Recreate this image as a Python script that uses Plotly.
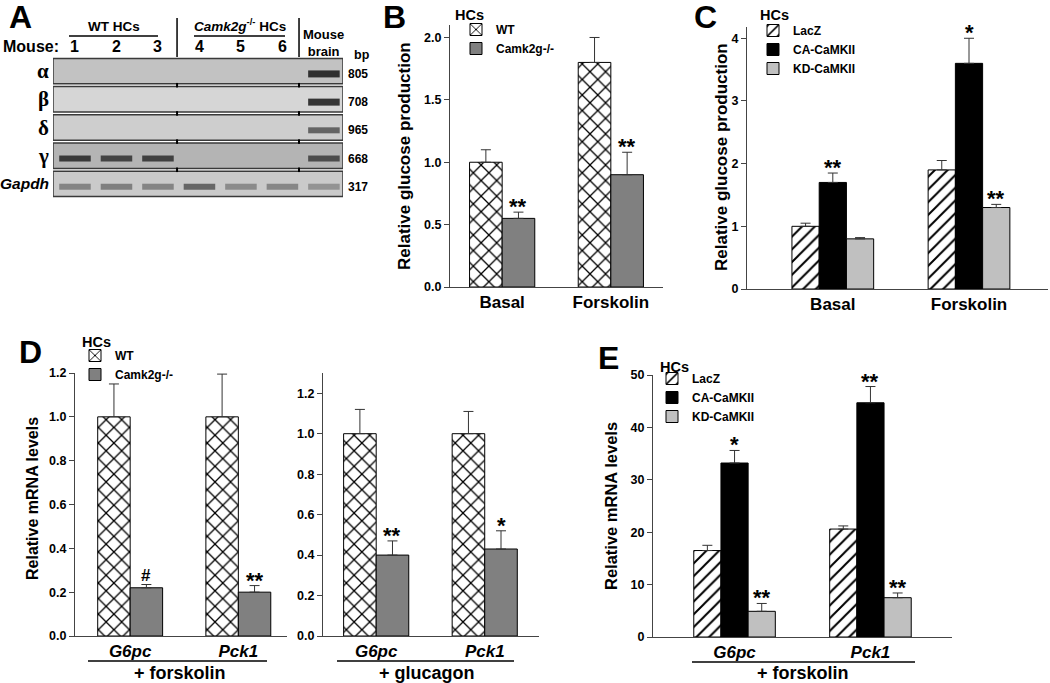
import plotly.graph_objects as go

W, H = 1050, 683

# ------------------------------------------------------------------ data
# Panel A (RT-PCR gel)
gel_rows = ["α", "β", "δ", "γ", "Gapdh"]
gel_bp = ["805", "708", "965", "668", "317"]
gel_lane_labels = ["1", "2", "3", "4", "5", "6"]
band_intensity = [
    [0, 0, 0, 0, 0, 0, 0.92],
    [0, 0, 0, 0, 0, 0, 0.90],
    [0, 0, 0, 0, 0, 0, 0.62],
    [0.85, 0.78, 0.80, 0, 0, 0, 0.72],
    [0.42, 0.45, 0.42, 0.60, 0.38, 0.40, 0.33],
]

# Panel B
b_categories = ["Basal", "Forskolin"]
b_wt = [1.0, 1.8]
b_wt_err = [0.10, 0.20]
b_ko = [0.55, 0.90]
b_ko_err = [0.05, 0.18]
b_ko_sig = ["**", "**"]

# Panel C
c_categories = ["Basal", "Forskolin"]
c_lacz = [1.0, 1.9]
c_lacz_err = [0.05, 0.15]
c_ca = [1.7, 3.6]
c_ca_err = [0.15, 0.40]
c_kd = [0.8, 1.3]
c_kd_err = [0.02, 0.05]
c_ca_sig = ["**", "*"]
c_kd_sig = ["", "**"]

# Panel D
d_genes = ["G6pc", "Pck1"]
d_fsk_wt = [1.0, 1.0]
d_fsk_wt_err = [0.15, 0.195]
d_fsk_ko = [0.22, 0.20]
d_fsk_ko_err = [0.015, 0.03]
d_fsk_ko_sig = ["#", "**"]
d_glu_wt = [1.0, 1.0]
d_glu_wt_err = [0.12, 0.11]
d_glu_ko = [0.40, 0.43]
d_glu_ko_err = [0.07, 0.09]
d_glu_ko_sig = ["**", "*"]

# Panel E
e_genes = ["G6pc", "Pck1"]
e_lacz = [16.5, 20.6]
e_lacz_err = [1.0, 0.6]
e_ca = [33.2, 44.7]
e_ca_err = [2.4, 3.1]
e_kd = [4.9, 7.5]
e_kd_err = [1.5, 0.9]
e_ca_sig = ["*", "**"]
e_kd_sig = ["**", "**"]

# ------------------------------------------------------------------ styles
FONT = "Liberation Sans, Arial, Helvetica, sans-serif"
SERIF = "Liberation Serif, Times New Roman, serif"
AX = "#444444"
ERR = "#333333"

STYLE = {
    "WT": dict(color="white", pattern=dict(shape="x", fgcolor="black", bgcolor="white", size=11, solidity=0.22)),
    "Camk2g-/-": dict(color="#808080"),
    "LacZ": dict(color="white", pattern=dict(shape="/", fgcolor="black", bgcolor="white", size=9, solidity=0.22)),
    "CA-CaMKII": dict(color="black"),
    "KD-CaMKII": dict(color="#c0c0c0"),
}
gel_bg = [194, 214, 206, 180, 202]


def xd(a, b):
    return [a / W, b / W]


def yd(top, bottom):
    return [1 - bottom / H, 1 - top / H]


fig = go.Figure()
annotations = []
shapes = []


def add_bar(x, y, err, name, xa, ya, legend, showlegend):
    st = STYLE[name]
    marker = dict(color=st["color"], line=dict(color="black", width=1))
    if "pattern" in st:
        marker["pattern"] = st["pattern"]
    fig.add_trace(go.Bar(
        x=x, y=y, name=name, xaxis=xa, yaxis=ya, marker=marker,
        error_y=dict(type="data", array=err, arrayminus=[0] * len(err), symmetric=False,
                     color=ERR, thickness=1, width=5),
        legend=legend, showlegend=showlegend, hoverinfo="skip"))


def add_sig(xa, ya, offset, vals, errs, labels):
    for i, (v, e, lab) in enumerate(zip(vals, errs, labels)):
        if not lab:
            continue
        is_hash = lab == "#"
        annotations.append(dict(
            x=i + offset, y=v + e, xref=xa, yref=ya, text=lab, showarrow=False,
            xanchor="center", yanchor="bottom", yshift=-2 if is_hash else -9,
            font=dict(size=17 if is_hash else 22, family=FONT, color="black")))


# ---------------- Panel B
add_bar(b_categories, b_wt, b_wt_err, "WT", "x", "y", "legend", True)
add_bar(b_categories, b_ko, b_ko_err, "Camk2g-/-", "x", "y", "legend", True)
add_sig("x", "y", 0.15, b_ko, b_ko_err, b_ko_sig)

# ---------------- Panel C
add_bar(c_categories, c_lacz, c_lacz_err, "LacZ", "x2", "y2", "legend2", True)
add_bar(c_categories, c_ca, c_ca_err, "CA-CaMKII", "x2", "y2", "legend2", True)
add_bar(c_categories, c_kd, c_kd_err, "KD-CaMKII", "x2", "y2", "legend2", True)
add_sig("x2", "y2", 0.0, c_ca, c_ca_err, c_ca_sig)
add_sig("x2", "y2", 0.2, c_kd, c_kd_err, c_kd_sig)

# ---------------- Panel D
add_bar(d_genes, d_fsk_wt, d_fsk_wt_err, "WT", "x3", "y3", "legend3", True)
add_bar(d_genes, d_fsk_ko, d_fsk_ko_err, "Camk2g-/-", "x3", "y3", "legend3", True)
add_sig("x3", "y3", 0.15, d_fsk_ko, d_fsk_ko_err, d_fsk_ko_sig)
add_bar(d_genes, d_glu_wt, d_glu_wt_err, "WT", "x4", "y4", "legend3", False)
add_bar(d_genes, d_glu_ko, d_glu_ko_err, "Camk2g-/-", "x4", "y4", "legend3", False)
add_sig("x4", "y4", 0.15, d_glu_ko, d_glu_ko_err, d_glu_ko_sig)

# ---------------- Panel E
add_bar(e_genes, e_lacz, e_lacz_err, "LacZ", "x5", "y5", "legend4", True)
add_bar(e_genes, e_ca, e_ca_err, "CA-CaMKII", "x5", "y5", "legend4", True)
add_bar(e_genes, e_kd, e_kd_err, "KD-CaMKII", "x5", "y5", "legend4", True)
add_sig("x5", "y5", 0.0, e_ca, e_ca_err, e_ca_sig)
add_sig("x5", "y5", 0.2, e_kd, e_kd_err, e_kd_sig)

# ---------------- Panel A gel
GX0, GX1 = 0.47, 7.46
n_rows = len(gel_rows)
fig.add_trace(go.Bar(
    y=list(range(n_rows)), x=[GX1 - GX0] * n_rows, base=[GX0] * n_rows,
    orientation="h", width=0.9, xaxis="x6", yaxis="y6",
    marker=dict(color=[f"rgb({g},{g},{g})" for g in gel_bg], line=dict(color="#3a3a3a", width=1.5)),
    showlegend=False, hoverinfo="skip"))
BAND_OFF = 0.1
for r, row in enumerate(band_intensity):
    bg = gel_bg[r]
    for l, v in enumerate(row):
        if v <= 0:
            continue
        g = int(round(bg - v * (bg - 35)))
        fig.add_trace(go.Scatter(
            x=[l + 1 - 0.38, l + 1 + 0.38], y=[r + BAND_OFF, r + BAND_OFF], mode="lines",
            line=dict(color=f"rgb({g},{g},{g})", width=7 if v > 0.85 else 6), xaxis="x6", yaxis="y6",
            showlegend=False, hoverinfo="skip"))


def ann_paper(x, y, text, size, angle=0, **kw):
    d = dict(x=x / W, y=1 - y / H, xref="paper", yref="paper", text=text, showarrow=False,
             textangle=angle, xanchor="center", yanchor="middle",
             font=dict(size=size, color="black"))
    d.update(kw)
    annotations.append(d)


for r, lab in enumerate(gel_rows):
    is_greek = lab != "Gapdh"
    annotations.append(dict(
        x=51 / W, xref="paper", y=r, yref="y6", xanchor="right", yanchor="middle", showarrow=False,
        text=lab if is_greek else f"<i>{lab}</i>",
        font=dict(family=SERIF if is_greek else FONT, size=21 if is_greek else 15.5, color="black")))
    annotations.append(dict(
        x=346 / W, xref="paper", y=r + BAND_OFF, yref="y6", xanchor="left", yanchor="middle",
        showarrow=False, text=gel_bp[r], font=dict(size=12, color="black")))
ann_paper(352, 55, "bp", 12.5, xanchor="left")
for l, lab in enumerate(gel_lane_labels):
    annotations.append(dict(x=l + 1, xref="x6", y=1 - 47 / H, yref="paper", showarrow=False,
                            xanchor="center", yanchor="middle",
                            text=lab, font=dict(size=16, color="black")))
ann_paper(61, 47, "Mouse:", 16, xanchor="right")
annotations.append(dict(x=7, xref="x6", y=1 - 43 / H, yref="paper", showarrow=False,
                        xanchor="center", yanchor="middle",
                        text="Mouse<br>brain", font=dict(size=13, color="black")))
ann_paper(114, 26, "WT HCs", 13.5)
ann_paper(240, 25, "<i>Camk2g</i><sup>-/-</sup> HCs", 13.5)
shapes.append(dict(type="line", xref="paper", yref="paper", x0=69 / W, x1=158 / W,
                   y0=1 - 36 / H, y1=1 - 36 / H, line=dict(color="black", width=1.5)))
shapes.append(dict(type="line", xref="paper", yref="paper", x0=194 / W, x1=285 / W,
                   y0=1 - 36 / H, y1=1 - 36 / H, line=dict(color="black", width=1.5)))
for dx in (3.46, 6.40):
    shapes.append(dict(type="line", xref="x6", yref="paper", x0=dx, x1=dx,
                       y0=1 - 57 / H, y1=1 - 18 / H, line=dict(color="black", width=1.5)))
    for r in range(n_rows - 1):
        shapes.append(dict(type="line", xref="x6", yref="y6", x0=dx, x1=dx,
                           y0=r + 0.42, y1=r + 0.58, line=dict(color="black", width=2)))

# ---------------- captions, titles, letters
for letter, x, y in [("A", 20, 17), ("B", 394, 17), ("C", 705, 17), ("D", 30, 352), ("E", 608, 358)]:
    ann_paper(x, y, letter, 32)

# legend headings
for x, y in [(453, 15), (758, 15), (80, 342), (658, 367)]:
    ann_paper(x, y, "HCs", 14.5, xanchor="left")

ann_paper(404, 156, "Relative glucose production", 17, -90)
ann_paper(721, 157, "Relative glucose production", 17, -90)
ann_paper(32, 499, "Relative mRNA levels", 16, -90)
ann_paper(611, 506, "Relative mRNA levels", 16.5, -90)

ann_paper(180, 673, "+ forskolin", 18)
ann_paper(427, 673, "+ glucagon", 18)
ann_paper(803, 673, "+ forskolin", 18)
for x0, x1, y in [(88, 267, 661), (337, 514, 661), (692, 915, 662)]:
    shapes.append(dict(type="line", xref="paper", yref="paper", x0=x0 / W, x1=x1 / W,
                       y0=1 - y / H, y1=1 - y / H, line=dict(color="black", width=1.5)))


# ---------------- axes
def yaxis(domain, rng, dtick, fmt, anchor):
    return dict(domain=domain, range=rng, dtick=dtick, tick0=0, tickformat=fmt, showline=True,
                linecolor=AX, linewidth=1, ticks="outside", ticklen=5, tickcolor=AX, anchor=anchor,
                tickfont=dict(size=12.5, color="black"), showgrid=False, zeroline=False,
                fixedrange=True, automargin=False)


def xaxis(domain, rng, anchor, italic=False):
    return dict(domain=domain, range=rng, anchor=anchor, showline=True, linecolor=AX, linewidth=1,
                ticks="", showgrid=False, zeroline=False, automargin=False, fixedrange=True,
                tickfont=dict(size=17, color="black", style="italic" if italic else "normal"))


legend_common = dict(xanchor="left", yanchor="top", bgcolor="rgba(0,0,0,0)", tracegroupgap=0,
                     font=dict(size=12, color="black"), itemclick=False, itemdoubleclick=False)

fig.update_layout(
    template="none",
    width=W, height=H, margin=dict(l=0, r=0, t=0, b=0, pad=0), autosize=False,
    paper_bgcolor="white", plot_bgcolor="rgba(0,0,0,0)",
    font=dict(family=FONT, weight="bold", color="black"),
    barmode="group", bargap=0.4, bargroupgap=0,
    xaxis=xaxis(xd(450, 663), [-0.48, 1.48], "y"),
    yaxis=yaxis(yd(25, 287), [0, 2.1], 0.5, ".1f", "x"),
    xaxis2=xaxis(xd(747, 1048), [-0.63, 1.58], "y2"),
    yaxis2=yaxis(yd(27, 289), [0, 4.18], 1, "d", "x2"),
    xaxis3=xaxis(xd(75, 287), [-0.51, 1.45], "y3", True),
    yaxis3=yaxis(yd(373, 636), [0, 1.2], 0.2, ".1f", "x3"),
    xaxis4=xaxis(xd(323, 539), [-0.49, 1.5], "y4", True),
    yaxis4=yaxis(yd(373, 636), [0, 1.3], 0.2, ".1f", "x4"),
    xaxis5=xaxis(xd(653, 952), [-0.6, 1.6], "y5", True),
    yaxis5=yaxis(yd(375, 637), [0, 50], 10, "d", "x5"),
    xaxis6=dict(domain=xd(53, 343), range=[GX0, GX1], anchor="y6", visible=False, fixedrange=True,
                automargin=False),
    yaxis6=dict(domain=yd(57, 198), range=[n_rows - 0.5, -0.5], anchor="x6", visible=False,
                fixedrange=True, automargin=False),
    legend=legend_common | dict(x=456 / W, y=1 - 15 / H),
    legend2=legend_common | dict(x=753 / W, y=1 - 16 / H),
    legend3=legend_common | dict(x=75 / W, y=1 - 341 / H),
    legend4=legend_common | dict(x=652 / W, y=1 - 364 / H),
    annotations=annotations, shapes=shapes,
)

fig.write_html(
    "out.html",
    config={"displayModeBar": False},
    post_script="document.body.style.margin='0px';document.body.style.overflow='hidden';",
)
